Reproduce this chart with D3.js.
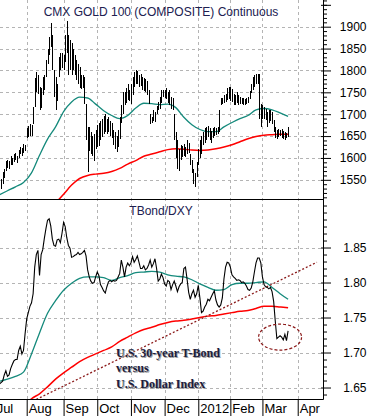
<!DOCTYPE html>
<html><head><meta charset="utf-8">
<script src="https://cdn.jsdelivr.net/npm/d3@7"></script>
<style>
html,body{margin:0;padding:0;background:#fff;}
svg{display:block;}
</style></head>
<body><svg id="chart" width="371" height="416"></svg>
<script>
// ================= DATA =================
const firstDay = "2011-07-07";          // first plotted trading day
const holidays = ["2011-07-04","2011-09-05","2011-11-24","2011-12-26","2012-01-02","2012-01-16","2012-02-20","2012-04-06"];

// CMX Gold daily high / low (Jul 7 2011 .. Mar 23 2012)
const goldHigh = [
  1545,1552,1568,1575,1592,1595,1592,1605,1600,1608,1612,1605,1618,1625,1622,1632,1630,
  1668,1672,1678,1675,1716,1782,1797,1790,1762,1760,1785,1790,1824,1850,1877,1909,1880,1800,1785,1770,1831,1839,1839,
  1835,1880,1912,1880,1870,1862,1850,1835,1824,1815,1808,1790,1790,1785,1724,1671,1671,1660,1650,1655,1665,
  1675,1680,1685,1690,1695,1700,1690,1694,1685,1680,1665,1660,1650,1665,1694,1720,1751,1750,1760,1770,1755,
  1770,1785,1797,1801,1798,1789,1792,1785,1782,1780,1775,1755,1700,1694,1709,1705,1718,1728,1740,1755,1755,
  1755,1759,1750,1755,1740,1738,1700,1660,1640,1620,1630,1628,1632,1625,1640,1635,1610,1595,1575,1565,1590,
  1620,1640,1650,1660,1668,1670,1672,1668,1662,1668,1670,1668,1670,1709,1736,1738,1745,1747,1760,1762,
  1762,1758,1747,1745,1751,1745,1740,1738,1736,1735,1738,1740,1752,1770,1785,1790,1793,1793,1793,1724,
  1722,1716,1712,1705,1709,1709,1705,1686,1671,1665,1667,1665,1667,1662,1660,1658,1671
];
const goldLow = [
  1525,1530,1540,1555,1570,1578,1575,1585,1585,1590,1595,1588,1600,1608,1605,1612,1615,
  1645,1648,1650,1650,1678,1716,1750,1747,1709,1715,1745,1755,1785,1815,1835,1854,1800,1740,1709,1731,1785,1801,1805,
  1801,1820,1840,1790,1800,1790,1800,1790,1778,1770,1760,1758,1760,1724,1640,1567,1617,1610,1605,1592,1620,
  1625,1628,1640,1648,1655,1660,1655,1660,1650,1645,1630,1620,1613,1625,1644,1680,1701,1720,1725,1732,1730,
  1724,1745,1762,1770,1768,1762,1765,1755,1752,1750,1745,1724,1678,1680,1685,1682,1700,1709,1712,1725,1740,
  1736,1735,1725,1720,1712,1709,1640,1600,1575,1571,1595,1602,1605,1602,1610,1612,1585,1565,1540,1533,1556,
  1585,1600,1610,1630,1635,1640,1648,1640,1635,1645,1650,1652,1655,1660,1720,1724,1725,1728,1732,1735,
  1730,1728,1720,1722,1725,1720,1724,1724,1720,1722,1724,1726,1735,1748,1755,1762,1768,1770,1690,1671,
  1690,1688,1686,1671,1680,1685,1678,1660,1645,1644,1648,1650,1646,1644,1640,1645,1648
];

// TBond / DXY daily ratio
const ratio = [
  1.655,1.657,1.659,1.668,1.674,1.666,1.668,1.677,1.683,1.688,1.690,1.690,1.703,1.709,1.698,1.703,
  1.727,1.748,1.757,1.766,1.771,1.784,1.822,1.840,1.846,1.810,1.840,1.847,1.863,1.877,1.889,
  1.891,1.881,1.862,1.853,1.852,1.861,1.862,1.857,1.870,1.886,1.880,1.864,1.853,1.849,1.836,
  1.837,1.839,1.840,1.843,1.840,1.841,1.843,1.846,1.838,1.818,1.808,1.802,1.799,1.800,1.808,
  1.815,1.810,1.797,1.793,1.788,1.785,1.794,1.801,1.803,1.801,1.803,1.802,1.803,1.808,1.813,
  1.832,1.822,1.808,1.822,1.828,1.824,1.828,1.837,1.829,1.833,1.838,1.829,1.820,1.820,1.824,
  1.818,1.820,1.825,1.832,1.822,1.827,1.834,1.820,1.802,1.805,1.812,1.807,1.798,1.795,1.803,
  1.801,1.790,1.797,1.802,1.795,1.787,1.794,1.798,1.800,1.820,1.822,1.805,1.786,1.776,1.784,
  1.789,1.779,1.784,1.796,1.778,1.757,1.759,1.765,1.769,1.776,1.774,1.779,1.784,1.788,1.775,
  1.768,1.765,1.768,1.778,1.805,1.822,1.829,1.828,1.822,1.811,1.808,1.806,1.803,1.804,1.803,
  1.800,1.801,1.799,1.795,1.790,1.789,1.792,1.801,1.815,1.828,1.835,1.835,1.828,1.808,1.797,
  1.794,1.793,1.791,1.793,1.787,1.773,1.745,1.720,1.722,1.724,1.722,1.718,1.726,1.717,1.731
];

// moving averages, read every 5th trading day
const maStep = 5;
const gold50 = [1516,1525,1534,1544,1566,1606,1643,1671,1706,1728,1739,1737,1723,1708,1697,1690,1697,1714,1725,1724,1722,1723,1715,1693,1676,1665,1660,1660,1671,1681,1690,1697,1710,1713,1710,1703,1695];
const gold200 = [null,null,null,null,null,null,1478,1497,1517,1538,1553,1560,1563,1565,1569,1576,1586,1594,1604,1609,1614,1619,1621,1620,1618,1617,1618,1621,1625,1630,1637,1644,1649,1652,1653,1654,1654];
const ratio50 = [1.659,1.662,1.666,1.672,1.698,1.728,1.756,1.774,1.789,1.799,1.806,1.808,1.808,1.807,1.803,1.807,1.810,1.814,1.815,1.816,1.815,1.811,1.809,1.808,1.804,1.798,1.793,1.789,1.790,1.797,1.799,1.799,1.800,1.801,1.793,1.784,1.776];
const ratio200 = [null,null,null,1.622,1.634,1.641,1.651,1.662,1.671,1.679,1.687,1.693,1.698,1.703,1.708,1.716,1.722,1.728,1.733,1.736,1.740,1.743,1.745,1.746,1.748,1.750,1.752,1.753,1.755,1.757,1.759,1.760,1.763,1.766,1.766,1.765,1.764];

const goldTicks = [1550,1600,1650,1700,1750,1800,1850,1900];
const ratioTicks = [1.65,1.70,1.75,1.80,1.85];
const trendLine = [["2011-08-09",1.633],["2012-04-19",1.829]];
const ringCenter = ["2012-03-16",1.722];
const ringHalfDays = 13.4, ringHalfValue = 0.0186;
const titleTop = "CMX GOLD 100 (COMPOSITE) Continuous";
const titleBottom = "TBond/DXY";
const noteLines = ["U.S. 30-year T-Bond","versus","U.S. Dollar Index"];

// ================= LAYOUT =================
const plotR = 323.5;
const sans = "'Liberation Sans', Arial, sans-serif";
const serif = "'Liberation Serif', 'Times New Roman', serif";
const fmt = d3.timeFormat("%Y-%m-%d");
const holidaySet = new Set(holidays);
const calendar = d3.timeDay.range(new Date(2011,6,1), new Date(2012,4,1))
  .filter(d => d.getDay()!==0 && d.getDay()!==6 && !holidaySet.has(fmt(d)));
const idxOf = s => calendar.findIndex(d => fmt(d)===s);
const start = idxOf(firstDay);

const x = d3.scaleLinear().domain([3.35,204.77]).range([0,323]);
const yG = d3.scaleLinear().domain([1505,1961]).range([199.5,0]);
const yR = d3.scaleLinear().domain([1.6329,1.9179]).range([399.5,200]);
const px = v => Math.round(v)+0.5;

const svg = d3.select("#chart");
const defs = svg.append("defs");
defs.append("clipPath").attr("id","clipTop").append("rect").attr("x",0).attr("y",0).attr("width",plotR).attr("height",199.5);
defs.append("clipPath").attr("id","clipBot").append("rect").attr("x",0).attr("y",200).attr("width",plotR).attr("height",199.5);

// month starts
const monthIdx = calendar.map((d,i)=>i).filter(i => i===0 || calendar[i].getMonth()!==calendar[i-1].getMonth());

// ---- grid ----
const grid = svg.append("g").attr("stroke","#b4b4b4").attr("stroke-dasharray","3,3").attr("stroke-width",1);
monthIdx.filter(i => x(i)>1 && x(i)<plotR-1).forEach(i=>{
  grid.append("line").attr("x1",px(x(i))).attr("x2",px(x(i))).attr("y1",0).attr("y2",399.5);
});
goldTicks.forEach(v=>grid.append("line").attr("x1",0).attr("x2",plotR).attr("y1",px(yG(v))).attr("y2",px(yG(v))));
ratioTicks.forEach(v=>grid.append("line").attr("x1",0).attr("x2",plotR).attr("y1",px(yR(v))).attr("y2",px(yR(v))));

// ---- top panel ----
const topPanel = svg.append("g").attr("clip-path","url(#clipTop)");
const maLine = (yS) => d3.line().defined(d=>d!=null).x((d,k)=>x(start+k*maStep)).y(d=>yS(d)).curve(d3.curveMonotoneX);
topPanel.append("path").attr("d",maLine(yG)(gold200)).attr("fill","none").attr("stroke","#ff0000").attr("stroke-width",1.5);
topPanel.append("path").attr("d",maLine(yG)(gold50)).attr("fill","none").attr("stroke","#158a7c").attr("stroke-width",1.3);
topPanel.append("g").selectAll("line").data(goldHigh).join("line")
  .attr("x1",(d,k)=>px(x(start+k))).attr("x2",(d,k)=>px(x(start+k)))
  .attr("y1",d=>yG(d)).attr("y2",(d,k)=>yG(goldLow[k]))
  .attr("stroke","#000").attr("stroke-width",1).attr("shape-rendering","crispEdges");

// ---- bottom panel ----
const botPanel = svg.append("g").attr("clip-path","url(#clipBot)");
botPanel.append("path").attr("d",maLine(yR)(ratio200)).attr("fill","none").attr("stroke","#ff0000").attr("stroke-width",1.5);
botPanel.append("path").attr("d",maLine(yR)(ratio50)).attr("fill","none").attr("stroke","#158a7c").attr("stroke-width",1.3);
botPanel.append("path").attr("d",d3.line().x(d=>x(idxOf(d[0]))).y(d=>yR(d[1]))(trendLine))
  .attr("fill","none").attr("stroke","#8b1a1a").attr("stroke-width",1.3).attr("stroke-dasharray","2,2");
botPanel.append("path").attr("d",d3.line().x((d,k)=>x(start+k)).y(d=>yR(d))(ratio))
  .attr("fill","none").attr("stroke","#000").attr("stroke-width",1.1);
const cIdx = idxOf(ringCenter[0]);
botPanel.append("ellipse").attr("cx",x(cIdx)).attr("cy",yR(ringCenter[1]))
  .attr("rx",x(cIdx+ringHalfDays)-x(cIdx)).attr("ry",yR(ringCenter[1]-ringHalfValue)-yR(ringCenter[1]))
  .attr("fill","none").attr("stroke","#8b1a1a").attr("stroke-width",1.2).attr("stroke-dasharray","3,2");

// annotation
const note = svg.append("g").attr("font-family",serif).attr("font-weight","bold").attr("font-size",12);
noteLines.forEach((t,k)=>{
  note.append("text").attr("x",117).attr("y",357.5+k*15.5).attr("fill","#a0a0a0").text(t);
  note.append("text").attr("x",116).attr("y",356.5+k*15.5).attr("fill","#1c1c3c").text(t);
});

// titles
svg.append("text").attr("x",161).attr("y",16).attr("text-anchor","middle").attr("font-family",sans).attr("font-size",12).attr("fill","#202050").text(titleTop);
svg.append("text").attr("x",161).attr("y",215).attr("text-anchor","middle").attr("font-family",sans).attr("font-size",12).attr("fill","#202050").text(titleBottom);

// ---- frame lines ----
const frame = svg.append("g").attr("stroke","#000").attr("stroke-width",1);
frame.append("line").attr("x1",0).attr("x2",plotR).attr("y1",199.5).attr("y2",199.5);
frame.append("line").attr("x1",0).attr("x2",plotR).attr("y1",399.5).attr("y2",399.5);
frame.append("line").attr("x1",plotR).attr("x2",plotR).attr("y1",0).attr("y2",399.5);

// ---- right axes ----
function rightAxis(yS, major, minor, fmtF){
  const gMin = svg.append("g").attr("transform",`translate(${plotR-0.5},0)`)
    .call(d3.axisRight(yS).tickValues(minor).tickSize(4).tickFormat(""));
  gMin.select(".domain").remove();
  const g = svg.append("g").attr("transform",`translate(${plotR-0.5},0)`)
    .call(d3.axisRight(yS).tickValues(major).tickSize(8).tickFormat(fmtF));
  g.select(".domain").remove();
  g.selectAll(".tick line").attr("x1",-2);
  g.selectAll(".tick text").attr("x",43.5).attr("text-anchor","end")
    .attr("font-family",sans).attr("font-size",12).attr("fill","#000");
}
const goldMinor = d3.range(1510,1961,10).filter(v=>goldTicks.indexOf(v)<0);
rightAxis(yG, goldTicks.concat([1950]), goldMinor, v => v===1950 ? "" : d3.format("d")(v));
const ratioMinor = d3.range(164,192,1).map(v=>v/100).filter(v=>!ratioTicks.some(t=>Math.abs(t-v)<1e-6));
rightAxis(yR, ratioTicks, ratioMinor, d3.format(".2f"));

// ---- month axis ----
const gM = svg.append("g").attr("transform","translate(0,399.5)")
  .call(d3.axisBottom(x).tickValues(monthIdx).tickSizeInner(17).tickSizeOuter(0)
    .tickFormat(i => calendar[i].getMonth()===0 ? String(calendar[i].getFullYear()) : d3.timeFormat("%b")(calendar[i])));
gM.select(".domain").remove();
gM.selectAll(".tick line").attr("stroke","#000");
gM.selectAll(".tick text").attr("text-anchor","start").attr("x",1.5).attr("y",4).attr("dy","0.71em")
  .attr("font-family",sans).attr("font-size",13).attr("fill","#000");
</script>
</body></html>
